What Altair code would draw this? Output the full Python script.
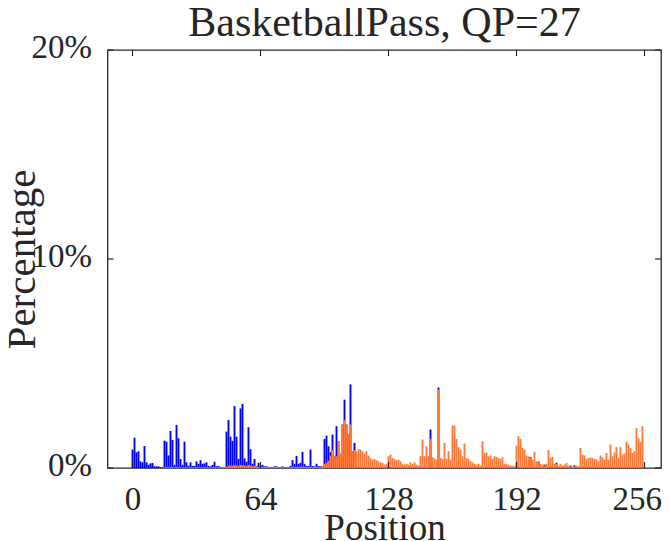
import altair as alt
import pandas as pd

# ---- data (percent per position) ----
blue = [
    0.88, 1.45, 0.75, 0.80, 0.32, 0.27, 1.05, 0.27, 0.15, 0.22, 0.24, 0.08, 0.08, 0.08, 0.03, 0.03,
    1.31, 1.26, 0.60, 1.77, 1.34, 0.15, 2.06, 1.42, 0.43, 0.15, 1.26, 0.27, 0.10, 0.27, 0.10, 0.10,
    0.32, 0.20, 0.37, 0.20, 0.22, 0.27, 0.10, 0.08, 0.15, 0.30, 0.08, 0.10, 0.05, 0.05, 0.05, 1.74,
    2.30, 1.50, 1.30, 2.96, 1.50, 0.43, 2.85, 3.07, 0.46, 0.30, 1.95, 0.90, 0.20, 0.43, 0.10, 0.25,
    0.10, 0.15, 0.08, 0.08, 0.05, 0.05, 0.05, 0.08, 0.08, 0.05, 0.05, 0.08, 0.05, 0.03, 0.03, 0.10,
    0.38, 0.20, 0.58, 0.20, 0.25, 0.77, 0.20, 0.10, 0.10, 0.88, 0.10, 0.08, 0.20, 0.10, 0.08, 0.10,
    1.39, 1.55, 1.04, 0.75, 1.60, 0.56, 2.00, 1.28, 0.60, 2.08, 3.27, 2.08, 1.60, 4.00, 0.80, 1.20,
    0.05, 0.05, 0.05, 0.05, 0.05, 0.05, 0.05, 0.05, 0.05, 0.05, 0.05, 0.05, 0.05, 0.05, 0.05, 0.05,
    0.05, 0.05, 0.05, 0.05, 0.05, 0.05, 0.05, 0.05, 0.05, 0.05, 0.05, 0.05, 0.05, 0.05, 0.05, 0.05,
    0.05, 0.05, 0.05, 0.05, 0.05, 1.84, 0.05, 0.05, 0.05, 3.85, 0.05, 0.05, 0.05, 0.05, 0.05, 0.05,
    0.05, 0.05, 0.05, 0.05, 0.05, 0.05, 0.05, 0.05, 0.05, 0.05, 0.05, 0.05, 0.05, 0.05, 0.05, 0.05,
    0.05, 0.05, 0.05, 0.05, 0.05, 0.05, 0.05, 0.05, 0.05, 0.05, 0.05, 0.05, 0.05, 0.05, 0.05, 0.05,
    0.05, 0.05, 0.05, 0.05, 0.05, 0.05, 0.05, 0.52, 0.05, 0.05, 0.05, 0.31, 0.05, 0.05, 0.16, 0.05,
    0.05, 0.05, 0.05, 0.05, 0.25, 0.05, 0.05, 0.05, 0.05, 0.05, 0.05, 0.12, 0.05, 0.13, 0.05, 0.05,
    0.05, 0.05, 0.05, 0.05, 0.05, 0.05, 0.05, 0.05, 0.05, 0.05, 0.05, 0.05, 0.05, 0.05, 0.05, 0.05,
    0.05, 0.05, 0.05, 0.05, 0.05, 0.05, 0.05, 0.05, 0.05, 0.05, 0.05, 0.05, 0.05, 0.05, 0.05, 0.05,
]

orange = [
    0.00, 0.00, 0.00, 0.00, 0.00, 0.00, 0.00, 0.00, 0.00, 0.00, 0.00, 0.00, 0.00, 0.00, 0.00, 0.00,
    0.03, 0.04, 0.03, 0.05, 0.04, 0.03, 0.05, 0.04, 0.03, 0.03, 0.04, 0.03, 0.03, 0.04, 0.03, 0.03,
    0.04, 0.03, 0.04, 0.03, 0.04, 0.04, 0.03, 0.03, 0.04, 0.04, 0.03, 0.04, 0.03, 0.04, 0.05, 0.06,
    0.10, 0.12, 0.10, 0.14, 0.12, 0.10, 0.15, 0.13, 0.12, 0.10, 0.15, 0.12, 0.08, 0.10, 0.08, 0.06,
    0.05, 0.05, 0.04, 0.04, 0.04, 0.04, 0.04, 0.05, 0.05, 0.04, 0.04, 0.05, 0.04, 0.03, 0.03, 0.05,
    0.06, 0.05, 0.06, 0.05, 0.06, 0.07, 0.05, 0.05, 0.05, 0.06, 0.05, 0.05, 0.06, 0.05, 0.05, 0.10,
    0.20, 0.25, 0.35, 0.60, 0.85, 0.56, 0.56, 1.28, 0.70, 2.08, 2.30, 2.08, 1.60, 2.08, 0.80, 0.85,
    0.80, 0.90, 0.88, 0.80, 0.69, 0.80, 0.60, 0.48, 0.40, 0.43, 0.37, 0.32, 0.27, 0.24, 0.16, 0.20,
    0.56, 0.64, 0.48, 0.43, 0.37, 0.40, 0.32, 0.20, 0.16, 0.20, 0.16, 0.27, 0.20, 0.27, 0.16, 0.11,
    0.56, 1.36, 0.56, 1.04, 0.56, 1.39, 0.53, 0.45, 0.40, 3.75, 0.48, 0.43, 1.20, 0.43, 0.80, 0.40,
    2.03, 2.03, 1.39, 1.00, 0.88, 0.56, 1.17, 0.48, 0.43, 0.32, 0.27, 0.20, 0.16, 0.20, 0.11, 1.28,
    0.72, 0.75, 0.56, 0.60, 0.43, 0.56, 0.53, 0.48, 0.43, 0.51, 0.20, 0.20, 0.16, 0.11, 0.11, 0.08,
    1.07, 1.52, 1.39, 0.96, 0.88, 0.60, 0.56, 0.48, 0.40, 0.78, 0.32, 0.27, 0.20, 0.16, 0.11, 0.20,
    0.85, 0.48, 0.53, 0.20, 0.20, 0.11, 0.20, 0.11, 0.16, 0.24, 0.11, 0.08, 0.08, 0.08, 0.11, 0.08,
    0.96, 0.64, 0.60, 0.43, 0.48, 0.51, 0.48, 0.43, 0.40, 0.32, 0.60, 0.51, 0.40, 0.72, 0.40, 1.12,
    0.56, 0.75, 1.00, 0.48, 1.00, 0.64, 0.69, 1.26, 1.12, 0.96, 0.72, 0.80, 1.92, 1.42, 1.26, 2.00,
]

x_ticks = [0, 64, 128, 192, 256]
y_ticks = [0, 10, 20]
title_text = ["BasketballPass, QP=27"]

W, H = 553.5, 418
FONT = "Liberation Serif"
AX = "#262626"

df = pd.DataFrame({"pos": list(range(256)), "blue": blue, "orange": orange})
xt = pd.DataFrame({"t": x_ticks})
yt = pd.DataFrame({"t": y_ticks})
tt = pd.DataFrame({"label": title_text})

xscale = alt.Scale(domain=[-12.5, 264.25], nice=False, zero=False, padding=0)
yscale = alt.Scale(domain=[0, 20], nice=False, padding=0)

xaxis = alt.Axis(values=x_ticks, ticks=False, domain=False, grid=False,
                 labelFont=FONT, labelFontSize=33, labelColor=AX,
                 labelPadding=15, labelFlush=20, labelFlushOffset=17,
                 title="Position", titleFont=FONT,
                 titleFontSize=37, titleFontWeight="normal", titleColor=AX,
                 titleBaseline="alphabetic", titleY=71, titleX=277)
yaxis = alt.Axis(values=y_ticks, ticks=False, domain=False, grid=False,
                 labelFont=FONT, labelFontSize=33, labelColor=AX,
                 labelPadding=16, labelOffset=-3, labelExpr="datum.value + '%'",
                 title="Percentage", titleFont=FONT, titleFontSize=41,
                 titleFontWeight="normal", titleColor=AX,
                 titleAngle=-90, titleBaseline="alphabetic", titleAlign="center",
                 titleX=-73, titleY=H / 2)

base = alt.Chart(df)
blue_bars = base.mark_bar(size=1.9, color="#0000FF").encode(
    x=alt.X("pos:Q", scale=xscale, axis=xaxis),
    y=alt.Y("blue:Q", scale=yscale, axis=yaxis),
)
orange_bars = base.mark_bar(size=1.9, color="#FF7A3A").encode(
    x=alt.X("pos:Q", scale=xscale),
    y=alt.Y("orange:Q", scale=yscale),
)

tick_style = dict(color=AX, strokeWidth=1.2)
xb = alt.Chart(xt).mark_rule(**tick_style).encode(
    x=alt.X("t:Q", scale=xscale), y=alt.value(H), y2=alt.value(H - 6))
xtop = alt.Chart(xt).mark_rule(**tick_style).encode(
    x=alt.X("t:Q", scale=xscale), y=alt.value(0), y2=alt.value(6))
yl = alt.Chart(yt).mark_rule(**tick_style).encode(
    y=alt.Y("t:Q", scale=yscale), x=alt.value(0), x2=alt.value(6))
yr = alt.Chart(yt).mark_rule(**tick_style).encode(
    y=alt.Y("t:Q", scale=yscale), x=alt.value(W), x2=alt.value(W - 6))

title_mark = alt.Chart(tt).mark_text(
    font=FONT, fontSize=42, color=AX, align="center", baseline="alphabetic"
).encode(text="label:N", x=alt.value(277), y=alt.value(-14))

chart = alt.layer(blue_bars, orange_bars, xb, xtop, yl, yr, title_mark).properties(
    width=W, height=H,
    background="white",
    autosize=alt.AutoSizeParams(type="none"),
    padding={"left": 99.5, "top": 42, "right": 1, "bottom": 73},
).configure_view(stroke=AX, strokeWidth=1.3)

chart.save("out.html", embed_options={"renderer": "svg", "actions": False})
